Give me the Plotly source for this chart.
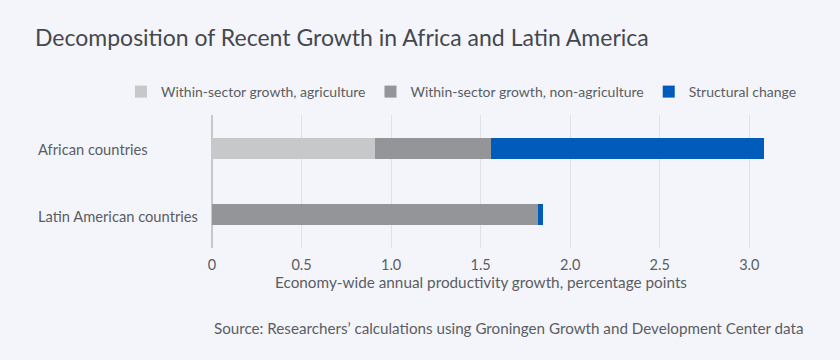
import plotly.graph_objects as go

categories = ["African countries", "Latin American countries"]
agriculture = [0.91, 0.0]
non_agriculture = [0.65, 1.82]
structural = [1.52, 0.03]

tick_vals = [0, 0.5, 1.0, 1.5, 2.0, 2.5, 3.0]
tick_text = ["0", "0.5", "1.0", "1.5", "2.0", "2.5", "3.0"]

FONT = "Lato"
TXT = "#5a5d63"

fig = go.Figure()
fig.add_trace(go.Bar(y=categories, x=agriculture, orientation="h",
                     name="Within-sector growth, agriculture",
                     marker=dict(color="#c7c8ca", line=dict(width=0))))
fig.add_trace(go.Bar(y=categories, x=non_agriculture, orientation="h",
                     name="Within-sector growth, non-agriculture",
                     marker=dict(color="#939598", line=dict(width=0))))
fig.add_trace(go.Bar(y=categories, x=structural, orientation="h",
                     name="Structural change",
                     marker=dict(color="#005bbb", line=dict(width=0))))

# left-aligned category labels
cat_annotations = [
    dict(text=c, xref="paper", yref="y", x=(36 - 212) / 591, y=c,
         xanchor="left", yanchor="middle", showarrow=False, yshift=-1,
         font=dict(family=FONT, size=14.7, color=TXT))
    for c in categories
]

fig.update_layout(
    width=840, height=360,
    barmode="stack", bargap=0.684,
    paper_bgcolor="#f4f5fa", plot_bgcolor="#f4f5fa",
    margin=dict(l=212, r=37, t=115, b=112),
    font=dict(family=FONT, size=14, color=TXT),
    title=dict(text="Decomposition of Recent Growth in Africa and Latin America",
               font=dict(family=FONT, size=23, color="#45484e"),
               xref="container", yref="container",
               x=35/840, xanchor="left", y=1-38/360, yanchor="middle"),
    showlegend=True,
    legend=dict(orientation="h", xanchor="left", x=(121-212)/591, yanchor="middle",
                y=(248-92)/133, font=dict(family=FONT, size=14, color=TXT),
                bgcolor="rgba(0,0,0,0)", traceorder="normal",
                itemwidth=30, borderwidth=0),
    xaxis=dict(range=[0, 3.3], tickvals=tick_vals, ticktext=tick_text,
               showgrid=True, gridcolor="#dfe1e6", gridwidth=1,
               zeroline=True, zerolinecolor="#c6c8cc", zerolinewidth=1.5,
               showline=False, ticks="", ticklabelstandoff=6,
               tickfont=dict(family=FONT, size=14.5, color=TXT),
               fixedrange=True),
    yaxis=dict(autorange="reversed", showgrid=False, zeroline=False,
               showline=False, ticks="", showticklabels=False,
               fixedrange=True),
    annotations=cat_annotations + [
        dict(text="Economy-wide annual productivity growth, percentage points",
             xref="x", yref="paper", x=1.5, y=(248-282)/133,
             xanchor="center", yanchor="middle", showarrow=False,
             font=dict(family=FONT, size=15.3, color=TXT)),
        dict(text="Source: Researchers’ calculations using Groningen Growth and Development Center data",
             xref="paper", yref="paper", x=1.0, y=(248-328)/133,
             xanchor="right", yanchor="middle", showarrow=False, xshift=3,
             font=dict(family=FONT, size=15.2, color=TXT)),
    ],
)

fig.write_html("out.html", config={"displayModeBar": False},
               post_script="document.body.style.margin='0';document.body.style.padding='0';")
